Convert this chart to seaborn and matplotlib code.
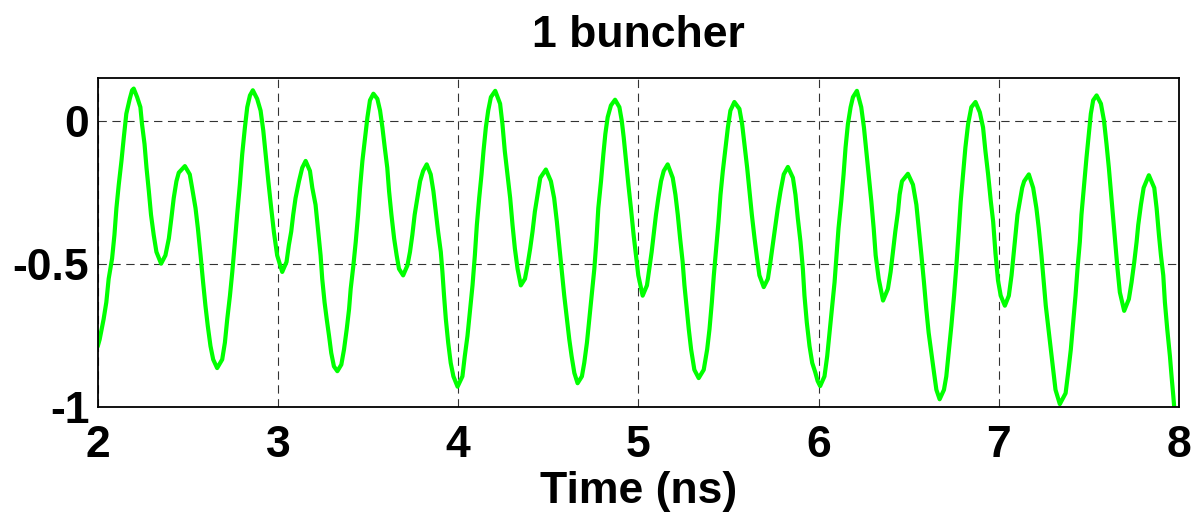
import matplotlib
matplotlib.use("Agg")
import matplotlib.pyplot as plt
import seaborn as sns
import pandas as pd

# Sampled trace of the bunched signal (time in ns, normalised amplitude)
time_ns = [
    2.000, 2.011, 2.033, 2.048, 2.061, 2.080, 2.093, 2.104, 2.117, 2.132, 2.145, 2.159, 2.178, 2.191, 2.200,
    2.219, 2.237, 2.246, 2.260, 2.271, 2.284, 2.296, 2.311, 2.326, 2.352, 2.376, 2.395, 2.409, 2.422, 2.437,
    2.450, 2.484, 2.511, 2.524, 2.543, 2.556, 2.571, 2.585, 2.598, 2.611, 2.626, 2.641, 2.663, 2.691, 2.706,
    2.719, 2.734, 2.747, 2.760, 2.774, 2.789, 2.802, 2.817, 2.830, 2.845, 2.861, 2.885, 2.904, 2.919, 2.932,
    2.947, 2.963, 2.978, 2.996, 3.024, 3.048, 3.061, 3.074, 3.085, 3.098, 3.117, 3.135, 3.154, 3.178, 3.191,
    3.209, 3.222, 3.237, 3.246, 3.259, 3.271, 3.284, 3.296, 3.311, 3.330, 3.352, 3.367, 3.382, 3.395, 3.404,
    3.419, 3.432, 3.445, 3.456, 3.469, 3.482, 3.497, 3.511, 3.530, 3.552, 3.567, 3.580, 3.593, 3.607, 3.617,
    3.630, 3.645, 3.659, 3.672, 3.695, 3.719, 3.733, 3.746, 3.759, 3.774, 3.789, 3.806, 3.826, 3.848, 3.863,
    3.876, 3.889, 3.904, 3.913, 3.922, 3.932, 3.945, 3.959, 3.974, 3.997, 4.024, 4.037, 4.052, 4.067, 4.080,
    4.093, 4.104, 4.117, 4.130, 4.141, 4.154, 4.167, 4.182, 4.206, 4.233, 4.246, 4.259, 4.274, 4.289, 4.302,
    4.315, 4.330, 4.348, 4.371, 4.385, 4.400, 4.413, 4.426, 4.441, 4.456, 4.487, 4.515, 4.533, 4.548, 4.561,
    4.574, 4.589, 4.604, 4.617, 4.630, 4.645, 4.663, 4.687, 4.700, 4.715, 4.728, 4.741, 4.756, 4.767, 4.778,
    4.793, 4.806, 4.817, 4.830, 4.848, 4.871, 4.895, 4.908, 4.919, 4.932, 4.945, 4.959, 4.974, 4.987, 5.000,
    5.024, 5.048, 5.061, 5.074, 5.085, 5.098, 5.111, 5.126, 5.141, 5.163, 5.191, 5.206, 5.219, 5.232, 5.246,
    5.256, 5.269, 5.280, 5.293, 5.311, 5.335, 5.363, 5.382, 5.395, 5.408, 5.419, 5.432, 5.445, 5.456, 5.469,
    5.482, 5.497, 5.511, 5.533, 5.561, 5.576, 5.589, 5.604, 5.617, 5.630, 5.645, 5.659, 5.672, 5.696, 5.719,
    5.733, 5.746, 5.759, 5.774, 5.789, 5.807, 5.830, 5.858, 5.872, 5.885, 5.900, 5.913, 5.922, 5.935, 5.950,
    5.965, 5.982, 5.995, 6.009, 6.033, 6.048, 6.061, 6.074, 6.089, 6.100, 6.111, 6.126, 6.139, 6.150, 6.163,
    6.178, 6.191, 6.213, 6.237, 6.252, 6.265, 6.278, 6.293, 6.306, 6.317, 6.334, 6.358, 6.385, 6.400, 6.413,
    6.426, 6.441, 6.450, 6.463, 6.496, 6.524, 6.543, 6.556, 6.571, 6.585, 6.598, 6.611, 6.626, 6.641, 6.654,
    6.672, 6.696, 6.709, 6.722, 6.737, 6.752, 6.765, 6.778, 6.789, 6.802, 6.815, 6.830, 6.848, 6.871, 6.895,
    6.913, 6.926, 6.941, 6.956, 6.969, 6.982, 6.996, 7.011, 7.034, 7.056, 7.071, 7.082, 7.093, 7.104, 7.117,
    7.130, 7.141, 7.167, 7.191, 7.209, 7.222, 7.237, 7.250, 7.261, 7.274, 7.289, 7.302, 7.315, 7.339, 7.371,
    7.385, 7.400, 7.413, 7.426, 7.437, 7.450, 7.459, 7.474, 7.487, 7.500, 7.511, 7.524, 7.543, 7.567, 7.584,
    7.598, 7.611, 7.622, 7.635, 7.648, 7.659, 7.672, 7.696, 7.722, 7.737, 7.752, 7.765, 7.774, 7.789, 7.804,
    7.833, 7.863, 7.876, 7.889, 7.900, 7.913, 7.922, 7.935, 7.950, 7.959, 7.969, 7.976,
]

signal = [
    -0.790, -0.765, -0.694, -0.635, -0.553, -0.482, -0.400, -0.306, -0.224, -0.141, -0.059, 0.024, 0.076, 0.106, 0.112,
    0.082, 0.047, -0.012, -0.082, -0.165, -0.247, -0.329, -0.400, -0.459, -0.500, -0.471, -0.412, -0.341, -0.271, -0.212,
    -0.182, -0.159, -0.188, -0.235, -0.306, -0.376, -0.471, -0.565, -0.647, -0.718, -0.788, -0.835, -0.865, -0.835, -0.776,
    -0.694, -0.612, -0.529, -0.435, -0.329, -0.224, -0.118, -0.024, 0.047, 0.088, 0.106, 0.076, 0.035, -0.035, -0.118,
    -0.212, -0.306, -0.390, -0.471, -0.529, -0.494, -0.435, -0.388, -0.329, -0.271, -0.212, -0.165, -0.141, -0.176, -0.235,
    -0.294, -0.376, -0.471, -0.553, -0.635, -0.694, -0.753, -0.812, -0.859, -0.876, -0.853, -0.800, -0.729, -0.659, -0.588,
    -0.506, -0.424, -0.329, -0.235, -0.141, -0.071, 0.012, 0.071, 0.094, 0.076, 0.035, -0.024, -0.094, -0.165, -0.247,
    -0.329, -0.412, -0.471, -0.518, -0.541, -0.506, -0.459, -0.400, -0.329, -0.271, -0.212, -0.176, -0.153, -0.188, -0.247,
    -0.318, -0.388, -0.459, -0.529, -0.612, -0.694, -0.776, -0.847, -0.894, -0.930, -0.894, -0.824, -0.753, -0.659, -0.576,
    -0.471, -0.365, -0.271, -0.188, -0.106, -0.024, 0.035, 0.082, 0.104, 0.059, -0.012, -0.106, -0.188, -0.271, -0.365,
    -0.447, -0.518, -0.576, -0.553, -0.506, -0.447, -0.388, -0.318, -0.259, -0.200, -0.171, -0.212, -0.271, -0.353, -0.435,
    -0.518, -0.612, -0.694, -0.765, -0.824, -0.882, -0.918, -0.894, -0.847, -0.776, -0.694, -0.612, -0.518, -0.424, -0.306,
    -0.212, -0.118, -0.047, 0.012, 0.053, 0.073, 0.047, 0.000, -0.059, -0.141, -0.224, -0.306, -0.400, -0.471, -0.541,
    -0.612, -0.576, -0.518, -0.459, -0.400, -0.329, -0.271, -0.212, -0.176, -0.153, -0.200, -0.259, -0.329, -0.412, -0.494,
    -0.576, -0.659, -0.729, -0.800, -0.871, -0.900, -0.871, -0.800, -0.729, -0.635, -0.541, -0.447, -0.353, -0.259, -0.176,
    -0.106, -0.024, 0.035, 0.065, 0.041, -0.012, -0.082, -0.165, -0.247, -0.329, -0.412, -0.482, -0.541, -0.582, -0.553,
    -0.494, -0.435, -0.376, -0.306, -0.247, -0.188, -0.162, -0.200, -0.259, -0.341, -0.424, -0.518, -0.612, -0.706, -0.788,
    -0.847, -0.880, -0.910, -0.928, -0.894, -0.824, -0.741, -0.659, -0.565, -0.471, -0.376, -0.282, -0.188, -0.094, -0.012,
    0.047, 0.082, 0.104, 0.047, -0.024, -0.106, -0.188, -0.282, -0.376, -0.471, -0.553, -0.629, -0.588, -0.529, -0.459,
    -0.388, -0.318, -0.259, -0.212, -0.186, -0.224, -0.294, -0.376, -0.471, -0.565, -0.659, -0.741, -0.812, -0.882, -0.941,
    -0.974, -0.941, -0.894, -0.812, -0.718, -0.612, -0.506, -0.388, -0.282, -0.188, -0.094, -0.012, 0.047, 0.065, 0.029,
    -0.024, -0.106, -0.188, -0.282, -0.353, -0.465, -0.559, -0.612, -0.647, -0.612, -0.541, -0.471, -0.400, -0.329, -0.282,
    -0.235, -0.212, -0.188, -0.235, -0.306, -0.376, -0.471, -0.565, -0.647, -0.718, -0.800, -0.871, -0.941, -0.991, -0.953,
    -0.882, -0.800, -0.706, -0.612, -0.518, -0.424, -0.329, -0.224, -0.129, -0.047, 0.024, 0.071, 0.088, 0.059, 0.000,
    -0.082, -0.165, -0.247, -0.341, -0.435, -0.518, -0.600, -0.665, -0.624, -0.565, -0.494, -0.424, -0.365, -0.294, -0.235,
    -0.191, -0.235, -0.306, -0.400, -0.471, -0.541, -0.635, -0.729, -0.824, -0.894, -0.965, -1.020,
]

x_ticks = [2, 3, 4, 5, 6, 7, 8]
y_ticks = [-1, -0.5, 0]
y_tick_labels = ["-1", "-0.5", "0"]

sns.set_style("white")
plt.rcParams["font.family"] = ["Liberation Sans", "DejaVu Sans"]
plt.rcParams["font.weight"] = "bold"
plt.rcParams["text.color"] = "black"
plt.rcParams["axes.labelcolor"] = "black"
plt.rcParams["xtick.color"] = "black"
plt.rcParams["ytick.color"] = "black"
plt.rcParams["lines.scale_dashes"] = False

df = pd.DataFrame({"Time (ns)": time_ns, "signal": signal})

fig = plt.figure(figsize=(11.94, 5.20), dpi=100)
ax = fig.add_axes([0.0818, 0.2179, 0.9056, 0.6327])

sns.lineplot(data=df, x="Time (ns)", y="signal", ax=ax, color="#00ff00",
             linewidth=3.0, sort=False, estimator=None)
for line in ax.get_lines():
    line.set_solid_joinstyle("round")
    line.set_solid_capstyle("round")

ax.set_xlim(2, 8)
ax.set_ylim(-1.0, 0.15)
ax.set_xticks(x_ticks)
ax.set_yticks(y_ticks)
ax.set_yticklabels(y_tick_labels)
ax.tick_params(axis="both", length=0, labelsize=32, labelcolor="black")
ax.tick_params(axis="x", pad=13)
ax.tick_params(axis="y", pad=6)
for lab in ax.get_xticklabels() + ax.get_yticklabels():
    lab.set_fontweight("bold")

ax.grid(True, color="black", linewidth=0.8, linestyle=(0, (6, 4)), alpha=0.8)
ax.set_axisbelow(True)
for spine in ax.spines.values():
    spine.set_visible(True)
    spine.set_color("black")
    spine.set_linewidth(1.3)

ax.set_xlabel("Time (ns)", fontsize=32, fontweight="bold", labelpad=4, color="black")
ax.set_ylabel("")
ax.set_title("1 buncher", fontsize=32, fontweight="bold", pad=22, color="black")

fig.savefig("out.png", dpi=100, facecolor="white")
